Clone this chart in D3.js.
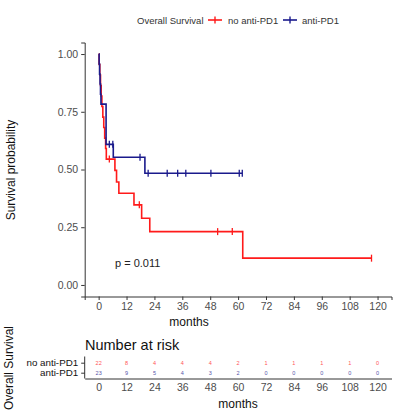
<!DOCTYPE html>
<html><head><meta charset="utf-8">
<script src="https://cdn.jsdelivr.net/npm/d3@7"></script>
<style>body{margin:0;background:#fff}text{font-family:"Liberation Sans",Arial,sans-serif}</style>
</head><body><svg id="c" width="396" height="414"></svg>
<script>
// ---- data ----
const groups = ["no anti-PD1", "anti-PD1"];
const colors = ["#ff1a1a", "#1a1a8c"];
// step curves: event times (months) and survival after each event
const redTimes = [0, 0.2, 0.5, 0.8, 1.1, 1.4, 1.8, 2.2, 2.6, 3.0, 3.3, 7.0, 7.7, 8.7, 15.2, 18.5, 22.0, 62.0];
const redSurv  = [1, 0.955, 0.909, 0.864, 0.818, 0.773, 0.727, 0.682, 0.636, 0.591, 0.545, 0.496, 0.446, 0.397, 0.347, 0.289, 0.231, 0.116];
const redCensor = [4.6, 17.5, 51.2, 57.5, 117.4];
const blueTimes = [0, 0.2, 0.4, 0.6, 0.8, 1.0, 3.2, 6.3, 19.9];
const blueSurv  = [1, 0.957, 0.913, 0.870, 0.826, 0.783, 0.609, 0.553, 0.484];
const blueCensor = [4.6, 6.1, 17.8, 21.3, 29.5, 34.0, 37.5, 48.3, 60.5, 61.8];
const xTicks = [0, 12, 24, 36, 48, 60, 72, 84, 96, 108, 120];
const yTicks = [0, 0.25, 0.5, 0.75, 1];
const riskRed  = [22, 8, 4, 4, 4, 2, 1, 1, 1, 1, 0];
const riskBlue = [23, 9, 5, 4, 3, 2, 0, 0, 0, 0, 0];
const pText = "p = 0.011";

const svg = d3.select("#c");
const x = d3.scaleLinear().domain([-6, 126]).range([84.7, 391.5]);
const y = d3.scaleLinear().domain([-0.05, 1.05]).range([296.5, 42.5]);
const tickCol = "#4d4d4d";

// legend
const lg = svg.append("g");
lg.append("text").attr("x", 137).attr("y", 23.5).attr("font-size", 9.5).attr("fill", "#333").text("Overall Survival");
const legItems = [{c: colors[0], lx: 208, tx: 228, t: groups[0]}, {c: colors[1], lx: 283, tx: 302, t: groups[1]}];
legItems.forEach(d => {
  lg.append("line").attr("x1", d.lx).attr("x2", d.lx + 14).attr("y1", 20).attr("y2", 20).attr("stroke", d.c).attr("stroke-width", 1.6);
  lg.append("line").attr("x1", d.lx + 7).attr("x2", d.lx + 7).attr("y1", 16.5).attr("y2", 23.5).attr("stroke", d.c).attr("stroke-width", 1.4);
  lg.append("text").attr("x", d.tx).attr("y", 23.5).attr("font-size", 9.5).attr("fill", "#333").text(d.t);
});

// axes main
const yAx = svg.append("g").attr("transform", "translate(84.7,0)")
  .call(d3.axisLeft(y).tickValues(yTicks).tickFormat(d3.format(".2f")).tickSize(3.5).tickPadding(3));
const xAx = svg.append("g").attr("transform", "translate(0,296.5)")
  .call(d3.axisBottom(x).tickValues(xTicks).tickSize(3.5).tickPadding(3));
[yAx, xAx].forEach(a => {
  a.selectAll("path").attr("stroke", "#333").attr("stroke-width", 1);
  a.selectAll("line").attr("stroke", "#333");
  a.selectAll("text").attr("font-size", 10.5).attr("fill", tickCol).attr("font-family", "Liberation Sans, Arial, sans-serif");
});
svg.append("text").attr("x", 189).attr("y", 326).attr("text-anchor", "middle").attr("font-size", 12).attr("fill", "#111").text("months");
svg.append("text").attr("transform", "translate(15,170) rotate(-90)").attr("text-anchor", "middle").attr("font-size", 12).attr("fill", "#111").text("Survival probability");

// curves
function stepAt(times, surv, t) { let s = surv[0]; times.forEach((tt, i) => { if (tt <= t) s = surv[i]; }); return s; }
const line = d3.line().x(d => x(d[0])).y(d => y(d[1])).curve(d3.curveStepAfter);
const curves = [
  {t: redTimes, s: redSurv, c: redCensor, col: colors[0]},
  {t: blueTimes, s: blueSurv, c: blueCensor, col: colors[1]}
];
curves.forEach(cv => {
  const pts = cv.t.map((t, i) => [t, cv.s[i]]);
  const end = Math.max(d3.max(cv.c), d3.max(cv.t));
  pts.push([end, stepAt(cv.t, cv.s, end)]);
  svg.append("path").attr("d", line(pts)).attr("fill", "none").attr("stroke", cv.col).attr("stroke-width", 1.6);
  svg.selectAll(null).data(cv.c).enter().append("line")
    .attr("x1", d => x(d)).attr("x2", d => x(d))
    .attr("y1", d => y(stepAt(cv.t, cv.s, d)) - 3.5).attr("y2", d => y(stepAt(cv.t, cv.s, d)) + 3.5)
    .attr("stroke", cv.col).attr("stroke-width", 1.3);
});
svg.append("text").attr("x", 115).attr("y", 267).attr("font-size", 11).attr("fill", "#222").text(pText);

// risk table
svg.append("text").attr("x", 85).attr("y", 350).attr("font-size", 14.5).attr("fill", "#111").text("Number at risk");
const yr = d3.scalePoint().domain(groups).range([362.7, 372.7]);
const rAxY = svg.append("g").attr("transform", "translate(84.7,0)")
  .call(d3.axisLeft(yr).tickSize(3.5).tickPadding(3).tickSizeOuter(0));
rAxY.select("path").attr("d", "M0,356.5V378.5").attr("stroke", "#333");
rAxY.selectAll("line").attr("stroke", "#333");
rAxY.selectAll("text").attr("font-size", 9.8).attr("fill", "#111").attr("font-family", "Liberation Sans, Arial, sans-serif");
const rAxX = svg.append("g").attr("transform", "translate(0,378.5)")
  .call(d3.axisBottom(x).tickValues(xTicks).tickSize(0).tickPadding(5).tickSizeOuter(0));
rAxX.select("path").attr("stroke", "#333");
rAxX.selectAll("text").attr("font-size", 10.5).attr("fill", tickCol).attr("font-family", "Liberation Sans, Arial, sans-serif");
svg.append("text").attr("x", 238).attr("y", 408).attr("text-anchor", "middle").attr("font-size", 12).attr("fill", "#111").text("months");
[riskRed, riskBlue].forEach((arr, gi) => {
  svg.selectAll(null).data(arr).enter().append("text")
    .attr("x", (d, i) => x(xTicks[i])).attr("y", yr(groups[gi]) + 2)
    .attr("text-anchor", "middle").attr("font-size", 5.5).attr("fill", gi ? "#5555aa" : "#ff5555").text(d => d);
});
svg.append("text").attr("transform", "translate(13,368) rotate(-90)").attr("text-anchor", "middle").attr("font-size", 12).attr("fill", "#111").text("Overall Survival");
</script></body></html>
